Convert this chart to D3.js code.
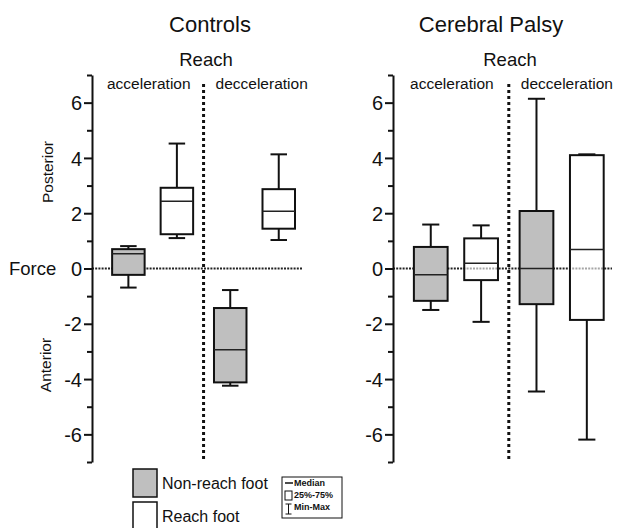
<!DOCTYPE html>
<html>
<head>
<meta charset="utf-8">
<script src="https://cdn.jsdelivr.net/npm/d3@7"></script>
<style>
  body { margin: 0; background: #fff; }
  svg { display: block; font-family: "Liberation Sans", Arial, sans-serif; }
</style>
</head>
<body>
<svg id="chart" width="620" height="528"></svg>
<script>
// ---- data ----
const groups = ["Controls", "Cerebral Palsy"];
const phases = ["acceleration", "decceleration"];
const feet = ["Non-reach foot", "Reach foot"];
// order of boxes in each panel: accel non-reach, accel reach, decel non-reach, decel reach
const controlsMin    = [-0.69, 1.10, -4.24, 1.03];
const controlsQ1     = [-0.23, 1.24, -4.12, 1.44];
const controlsMedian = [0.53, 2.43, -2.94, 2.07];
const controlsQ3     = [0.70, 2.92, -1.43, 2.87];
const controlsMax    = [0.81, 4.52, -0.78, 4.13];

const cpMin    = [-1.50, -1.93, -4.45, -6.19];
const cpQ1     = [-1.17, -0.42, -1.29, -1.86];
const cpMedian = [-0.23, 0.19, 0.00, 0.69];
const cpQ3     = [0.78, 1.09, 2.08, 4.10];
const cpMax    = [1.59, 1.56, 6.14, 4.13];

const yTicks = [-7, -6, -5, -4, -3, -2, -1, 0, 1, 2, 3, 4, 5, 6, 7];
const yLabels = [-6, -4, -2, 0, 2, 4, 6];
const legendStats = ["Median", "25%-75%", "Min-Max"];

// ---- build ----
const svg = d3.select("#chart");
const y = d3.scaleLinear().domain([-7, 7]).range([462, 75]);
const slotPos = [0, 1, 2.1, 3.1];
const dividerPos = 1.55;
const fillFor = i => (i % 2 === 0 ? "#bfbfbf" : "#ffffff");

const panels = [
  { name: groups[0], axisX: 92, right: 303, titleX: 210, reachX: 206,
    stats: { min: controlsMin, q1: controlsQ1, med: controlsMedian, q3: controlsQ3, max: controlsMax } },
  { name: groups[1], axisX: 393, right: 612, titleX: 491, reachX: 510,
    stats: { min: cpMin, q1: cpQ1, med: cpMedian, q3: cpQ3, max: cpMax } }
];

panels.forEach(p => {
  const x = d3.scaleLinear().domain([-0.75, 3.6]).range([p.axisX, p.right]);
  const g = svg.append("g");
  const unit = x(1) - x(0);
  const bw = unit * 0.67;
  const cw = unit * 0.34;

  // titles
  g.append("text").attr("x", p.titleX).attr("y", 32).attr("text-anchor", "middle")
    .attr("font-size", 22).attr("fill", "#111").text(p.name);
  g.append("text").attr("x", p.reachX).attr("y", 66).attr("text-anchor", "middle")
    .attr("font-size", 18.5).attr("fill", "#111").text("Reach");

  // zero line
  g.append("line").attr("x1", p.axisX).attr("x2", p.right)
    .attr("y1", y(0)).attr("y2", y(0))
    .attr("stroke", "#222").attr("stroke-width", 1.8).attr("stroke-dasharray", "2,1.2");

  // boxes
  slotPos.forEach((pos, i) => {
    const cx = x(pos);
    const s = p.stats;
    const sw = 2;
    g.append("line").attr("x1", cx).attr("x2", cx).attr("y1", y(s.max[i])).attr("y2", y(s.q3[i]))
      .attr("stroke", "#111").attr("stroke-width", sw);
    g.append("line").attr("x1", cx).attr("x2", cx).attr("y1", y(s.q1[i])).attr("y2", y(s.min[i]))
      .attr("stroke", "#111").attr("stroke-width", sw);
    [s.max[i], s.min[i]].forEach(v => {
      g.append("line").attr("x1", cx - cw / 2).attr("x2", cx + cw / 2).attr("y1", y(v)).attr("y2", y(v))
        .attr("stroke", "#111").attr("stroke-width", sw);
    });
    g.append("rect").attr("x", cx - bw / 2).attr("width", bw)
      .attr("y", y(s.q3[i])).attr("height", y(s.q1[i]) - y(s.q3[i]))
      .attr("fill", fillFor(i)).attr("fill-opacity", i % 2 === 0 ? 1 : 0.6)
      .attr("stroke", "#111").attr("stroke-width", sw);
    g.append("line").attr("x1", cx - bw / 2).attr("x2", cx + bw / 2)
      .attr("y1", y(s.med[i])).attr("y2", y(s.med[i]))
      .attr("stroke", "#222").attr("stroke-width", 1.5);
  });

  // divider
  g.append("line").attr("x1", x(dividerPos)).attr("x2", x(dividerPos))
    .attr("y1", 84).attr("y2", 462)
    .attr("stroke", "#111").attr("stroke-width", 3).attr("stroke-dasharray", "3,3");

  // phase labels
  g.append("text").attr("x", (x(-0.75) + x(dividerPos)) / 2 + 1).attr("y", 89)
    .attr("text-anchor", "middle").attr("font-size", 15.5).attr("fill", "#111").text(phases[0]);
  g.append("text").attr("x", x(dividerPos) + 12).attr("y", 89)
    .attr("text-anchor", "start").attr("font-size", 15.5).attr("fill", "#111").text(phases[1]);

  // y axis
  const axis = d3.axisLeft(y).tickValues(yTicks)
    .tickSize(0).tickFormat(d => (yLabels.includes(d) ? String(d) : ""));
  const ag = g.append("g").attr("transform", `translate(${p.axisX},0)`).call(axis);
  ag.select(".domain").attr("stroke", "#111").attr("stroke-width", 2);
  ag.selectAll(".tick line").attr("stroke", "#111").attr("stroke-width", 2)
    .attr("x2", d => (yLabels.includes(d) ? -8 : -5));
  ag.selectAll(".tick text").attr("x", -10).attr("dy", "0.36em")
    .attr("font-size", 20).attr("fill", "#111").attr("font-family", "Liberation Sans, Arial, sans-serif");
});

// left axis labels
svg.append("text").attr("x", 9).attr("y", 275).attr("font-size", 18.5).attr("fill", "#111").text("Force");
svg.append("text").attr("transform", `translate(53,172) rotate(-90)`).attr("text-anchor", "middle")
  .attr("font-size", 15.5).attr("fill", "#111").text("Posterior");
svg.append("text").attr("transform", `translate(51,365) rotate(-90)`).attr("text-anchor", "middle")
  .attr("font-size", 15.5).attr("fill", "#111").text("Anterior");

// legend
const lg = svg.append("g");
feet.forEach((f, i) => {
  const ty = 469 + i * 33;
  lg.append("rect").attr("x", 133).attr("y", ty).attr("width", 24).attr("height", 28)
    .attr("fill", fillFor(i)).attr("stroke", "#111").attr("stroke-width", 1.5);
  lg.append("text").attr("x", 162).attr("y", ty + 20).attr("font-size", 16).attr("fill", "#111").text(f);
});

const sg = svg.append("g");
sg.append("rect").attr("x", 282).attr("y", 477).attr("width", 60).attr("height", 41)
  .attr("fill", "#fff").attr("stroke", "#111").attr("stroke-width", 1);
sg.append("line").attr("x1", 285).attr("x2", 293).attr("y1", 483).attr("y2", 483).attr("stroke", "#111").attr("stroke-width", 1.5);
sg.append("rect").attr("x", 285).attr("y", 491).attr("width", 7).attr("height", 9).attr("fill", "#fff").attr("stroke", "#111").attr("stroke-width", 1);
sg.append("line").attr("x1", 288.5).attr("x2", 288.5).attr("y1", 504).attr("y2", 514).attr("stroke", "#111").attr("stroke-width", 1);
sg.append("line").attr("x1", 285.5).attr("x2", 291.5).attr("y1", 504).attr("y2", 504).attr("stroke", "#111").attr("stroke-width", 1);
sg.append("line").attr("x1", 285.5).attr("x2", 291.5).attr("y1", 514).attr("y2", 514).attr("stroke", "#111").attr("stroke-width", 1);
legendStats.forEach((t, i) => {
  sg.append("text").attr("x", 294).attr("y", 486 + i * 12).attr("font-size", 9)
    .attr("font-weight", "bold").attr("fill", "#111").text(t);
});
</script>
</body>
</html>
